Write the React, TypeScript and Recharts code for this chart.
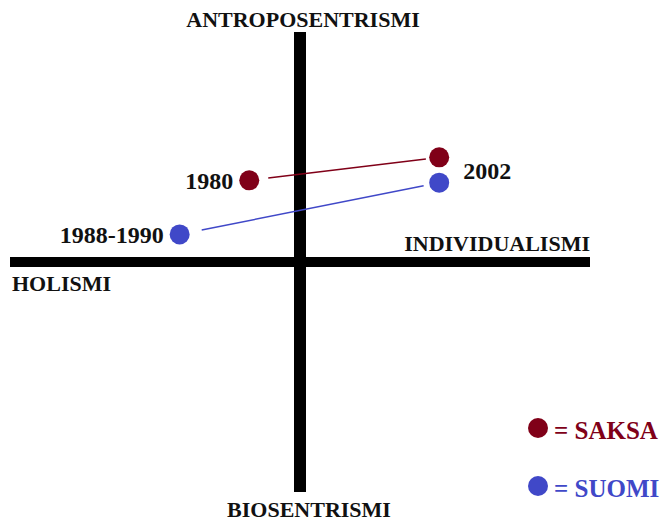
import { ScatterChart, Scatter, XAxis, YAxis, ReferenceLine } from 'recharts';

// concept map: x = holismi (-) .. individualismi (+), y = biosentrismi (-) .. antroposentrismi (+)
const saksaYears = ['1980', '2002'];
const saksaX = [-1.75, 4.8];
const saksaY = [3.55, 4.55];

const suomiYears = ['1988-1990', ''];
const suomiX = [-4.15, 4.8];
const suomiY = [1.2, 3.45];

const SAKSA_COLOR = '#800018';
const SUOMI_COLOR = '#4048c8';
const FONT = '"Liberation Serif", "Times New Roman", serif';

const W = 661;
const H = 521;

const toPoints = (xs: number[], ys: number[], years: string[]) =>
  xs.map((x, i) => ({ x, y: ys[i], year: years[i] }));

const saksa = toPoints(saksaX, saksaY, saksaYears);
const suomi = toPoints(suomiX, suomiY, suomiYears);

// connecting line leaves a small gap next to each dot
const gapSegment = (pts: { x: number; y: number }[], t0: number, t1: number) => {
  const [a, b] = pts;
  return [
    { x: a.x + (b.x - a.x) * t0, y: a.y + (b.y - a.y) * t0 },
    { x: a.x + (b.x - a.x) * t1, y: a.y + (b.y - a.y) * t1 },
  ];
};

const makeDot = (color: string) => (props: any) => {
  const { cx, cy, payload } = props;
  const year = payload?.year ?? '';
  const left = payload?.x < 0;
  return (
    <g>
      <circle cx={cx} cy={cy} r={10} fill={color} />
      {year && (
        <text
          x={left ? cx - 16 : cx + 24}
          y={left ? cy + 9 : cy + 22}
          textAnchor={left ? 'end' : 'start'}
          fontFamily={FONT}
          fontWeight="bold"
          fontSize={24}
          fill="#111"
        >
          {year}
        </text>
      )}
    </g>
  );
};

const titleText = (text: string, where: 'top' | 'bottom' | 'left' | 'right') => (props: any) => {
  const vb = props.viewBox || {};
  let x = 0;
  let y = 0;
  let anchor: 'start' | 'middle' | 'end' = 'middle';
  if (where === 'top') {
    x = vb.x + 3;
    y = vb.y - 5;
  } else if (where === 'bottom') {
    x = vb.x + 9;
    y = vb.y + vb.height + 25;
  } else if (where === 'left') {
    x = vb.x + 2;
    y = vb.y + 29;
    anchor = 'start';
  } else {
    x = vb.x + vb.width;
    y = vb.y - 11;
    anchor = 'end';
  }
  return (
    <text x={x} y={y} textAnchor={anchor} fontFamily={FONT} fontWeight="bold" fontSize={22} fill="#111">
      {text}
    </text>
  );
};

const legendItems = [
  { name: 'SAKSA', color: SAKSA_COLOR },
  { name: 'SUOMI', color: SUOMI_COLOR },
];

export default function App() {
  return (
    <div style={{ position: 'absolute', left: 0, top: 0, width: W, height: H, background: '#fff' }}>
      <ScatterChart width={W} height={H} margin={{ top: 32, right: 71, bottom: 29, left: 10 }}>
        <XAxis type="number" dataKey="x" domain={[-10, 10]} hide />
        <YAxis type="number" dataKey="y" domain={[-10, 10]} hide />
        <ReferenceLine x={0} stroke="#000" strokeWidth={12} label={{ content: titleText('ANTROPOSENTRISMI', 'top') }} />
        <ReferenceLine x={0} stroke="none" label={{ content: titleText('BIOSENTRISMI', 'bottom') }} />
        <ReferenceLine y={0} stroke="#000" strokeWidth={10} label={{ content: titleText('INDIVIDUALISMI', 'right') }} />
        <ReferenceLine y={0} stroke="none" label={{ content: titleText('HOLISMI', 'left') }} />
        <ReferenceLine segment={gapSegment(saksa, 0.1, 0.93)} stroke={SAKSA_COLOR} strokeWidth={1.5} />
        <ReferenceLine segment={gapSegment(suomi, 0.085, 0.94)} stroke={SUOMI_COLOR} strokeWidth={1.5} />
        <Scatter data={saksa} fill={SAKSA_COLOR} shape={makeDot(SAKSA_COLOR)} isAnimationActive={false} />
        <Scatter data={suomi} fill={SUOMI_COLOR} shape={makeDot(SUOMI_COLOR)} isAnimationActive={false} />
      </ScatterChart>
      <div style={{ position: 'absolute', left: 526, top: 416, fontFamily: FONT, fontWeight: 'bold', fontSize: 25 }}>
        {legendItems.map((item, i) => (
          <div key={item.name} style={{ display: 'flex', alignItems: 'center', height: 24, marginBottom: i === 0 ? 34 : 0 }}>
            <svg width={24} height={24} style={{ marginRight: 4 }}>
              <circle cx={12} cy={12} r={10} fill={item.color} />
            </svg>
            <span style={{ color: item.color, lineHeight: '24px', marginTop: 6 }}>= {item.name}</span>
          </div>
        ))}
      </div>
    </div>
  );
}
